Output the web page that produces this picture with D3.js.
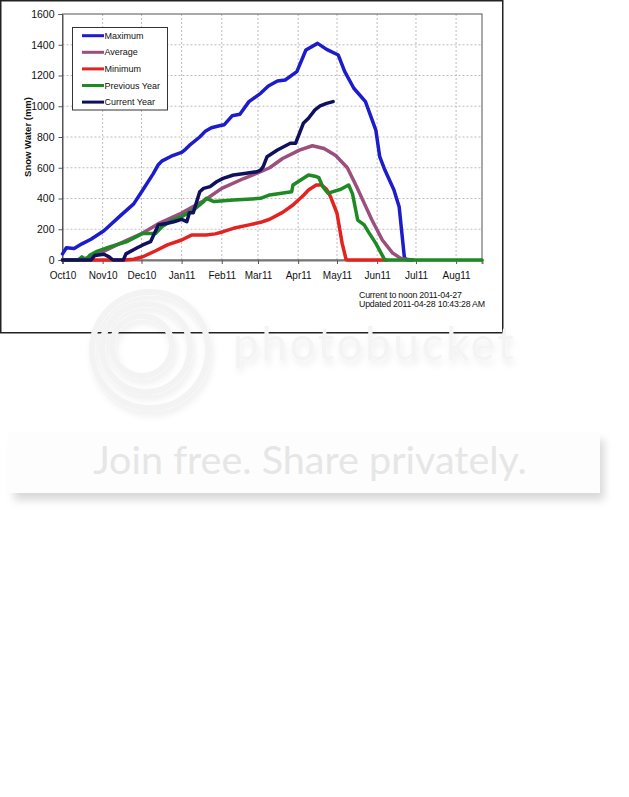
<!DOCTYPE html>
<html>
<head>
<meta charset="utf-8">
<script src="https://cdn.jsdelivr.net/npm/d3@7"></script>
<style>
  html, body { margin: 0; padding: 0; background: #fff; }
  svg { display: block; font-family: "Liberation Sans", Arial, sans-serif; }
</style>
</head>
<body>
<svg id="chart" width="629" height="797"></svg>
<script>
// Snow water equivalent (mm), water year Oct 2010 - Aug 2011
var maximum = [
  ["2010-10-01", 40], ["2010-10-04", 80], ["2010-10-10", 75], ["2010-10-16", 105],
  ["2010-10-23", 135], ["2010-11-02", 190], ["2010-11-15", 290], ["2010-11-25", 365],
  ["2010-12-02", 455], ["2010-12-10", 560], ["2010-12-14", 620], ["2010-12-17", 645],
  ["2010-12-24", 675], ["2011-01-01", 700], ["2011-01-04", 720], ["2011-01-07", 745],
  ["2011-01-15", 800], ["2011-01-19", 835], ["2011-01-24", 860], ["2011-01-31", 875],
  ["2011-02-03", 880], ["2011-02-09", 938], ["2011-02-15", 948], ["2011-02-22", 1030],
  ["2011-03-03", 1084], ["2011-03-09", 1132], ["2011-03-16", 1164], ["2011-03-22", 1171],
  ["2011-03-31", 1225], ["2011-04-07", 1366], ["2011-04-16", 1409], ["2011-04-23", 1370],
  ["2011-05-02", 1333], ["2011-05-07", 1225], ["2011-05-14", 1117], ["2011-05-23", 1030],
  ["2011-05-31", 845], ["2011-06-03", 672], ["2011-06-07", 585], ["2011-06-14", 455],
  ["2011-06-18", 347], ["2011-06-22", 21], ["2011-06-23", 5], ["2011-06-28", 0]
];

var average = [
  ["2010-10-01", 0], ["2010-10-13", 2], ["2010-10-21", 15], ["2010-10-30", 44],
  ["2010-11-10", 90], ["2010-11-20", 130], ["2010-12-02", 175], ["2010-12-15", 240],
  ["2011-01-01", 305], ["2011-01-19", 390], ["2011-02-01", 466], ["2011-02-18", 530],
  ["2011-03-03", 574], ["2011-03-10", 600], ["2011-03-20", 660], ["2011-04-02", 715],
  ["2011-04-12", 743], ["2011-04-21", 725], ["2011-04-30", 680], ["2011-05-09", 600],
  ["2011-05-16", 480], ["2011-05-22", 370], ["2011-05-28", 260], ["2011-06-05", 130],
  ["2011-06-13", 45], ["2011-06-19", 12], ["2011-06-25", 2], ["2011-06-29", 0]
];

var minimum = [
  ["2010-10-01", 0], ["2010-11-18", 0], ["2010-11-25", 5], ["2010-12-02", 21],
  ["2010-12-12", 60], ["2010-12-21", 98], ["2011-01-01", 130], ["2011-01-09", 163],
  ["2011-01-20", 163], ["2011-01-27", 170], ["2011-02-02", 184], ["2011-02-10", 206],
  ["2011-02-23", 230], ["2011-03-03", 245], ["2011-03-10", 265], ["2011-03-20", 310],
  ["2011-03-28", 358], ["2011-04-05", 420], ["2011-04-09", 455], ["2011-04-15", 488],
  ["2011-04-19", 488], ["2011-04-23", 460], ["2011-04-26", 412], ["2011-05-01", 304],
  ["2011-05-05", 108], ["2011-05-08", 5], ["2011-05-09", 0], ["2011-06-08", 0]
];

var previousYear = [
  ["2010-10-01", 0], ["2010-10-13", 0], ["2010-10-16", 20], ["2010-10-19", 0],
  ["2010-10-22", 30], ["2010-10-27", 54], ["2010-11-07", 87], ["2010-11-20", 120],
  ["2010-12-02", 173], ["2010-12-12", 173], ["2010-12-17", 217], ["2010-12-25", 260],
  ["2011-01-01", 282], ["2011-01-10", 325], ["2011-01-18", 380], ["2011-01-20", 401],
  ["2011-01-26", 380], ["2011-02-10", 390], ["2011-03-03", 401], ["2011-03-10", 423],
  ["2011-03-27", 444], ["2011-03-28", 488], ["2011-04-09", 553], ["2011-04-14", 545],
  ["2011-04-17", 535], ["2011-04-20", 477], ["2011-04-24", 434], ["2011-04-28", 445],
  ["2011-05-04", 460], ["2011-05-10", 488], ["2011-05-13", 430], ["2011-05-17", 260],
  ["2011-05-22", 228], ["2011-05-26", 173], ["2011-05-31", 108], ["2011-06-05", 30],
  ["2011-06-07", 0], ["2011-08-21", 0]
];

var currentYear = [
  ["2010-10-01", 0], ["2010-10-23", 0], ["2010-10-26", 30], ["2010-11-02", 37],
  ["2010-11-06", 20], ["2010-11-09", 0], ["2010-11-17", 0], ["2010-11-19", 40],
  ["2010-11-27", 76], ["2010-12-02", 98], ["2010-12-08", 119], ["2010-12-14", 228],
  ["2010-12-21", 239], ["2010-12-26", 249], ["2011-01-01", 264], ["2011-01-05", 249],
  ["2011-01-07", 308], ["2011-01-10", 308], ["2011-01-15", 444], ["2011-01-18", 466],
  ["2011-01-23", 477], ["2011-01-28", 509], ["2011-02-02", 531], ["2011-02-10", 553],
  ["2011-02-20", 564], ["2011-02-28", 574], ["2011-03-03", 585], ["2011-03-05", 607],
  ["2011-03-08", 672], ["2011-03-16", 715], ["2011-03-26", 759], ["2011-03-30", 759],
  ["2011-04-05", 889], ["2011-04-09", 922], ["2011-04-14", 976], ["2011-04-18", 1002],
  ["2011-04-23", 1019], ["2011-04-28", 1030]
];

var seriesNames  = ["Maximum", "Average", "Minimum", "Previous Year", "Current Year"];
var seriesColors = ["#1c1ccc", "#9a4f7c", "#e32320", "#1e8a24", "#10105e"];
var yTicks = [0, 200, 400, 600, 800, 1000, 1200, 1400, 1600];
var notes = ["Current to noon 2011-04-27", "Updated 2011-04-28 10:43:28 AM"];

var parse = d3.timeParse("%Y-%m-%d");
var svg = d3.select("#chart");

// ── Outer frame ─────────────────────────────────────────────────────
svg.append("rect")
  .attr("x", 0.75).attr("y", 0.75)
  .attr("width", 502).attr("height", 332)
  .attr("fill", "#fff")
  .attr("stroke", "#222").attr("stroke-width", 1.5);

var LEFT = 62.5, RIGHT = 482, TOP = 14, BOTTOM = 260;

var x = d3.scaleTime()
  .domain([parse("2010-10-01"), parse("2011-08-21")])
  .range([LEFT, RIGHT]);

var y = d3.scaleLinear()
  .domain([0, 1600])
  .range([BOTTOM, TOP]);

var months = d3.timeMonth.range(parse("2010-10-01"), parse("2011-08-21"));

// ── Grid ────────────────────────────────────────────────────────────
var grid = svg.append("g");
grid.selectAll(".vgrid")
  .data(months.slice(1))
  .enter().append("line")
  .attr("x1", function (d) { return x(d); })
  .attr("x2", function (d) { return x(d); })
  .attr("y1", TOP).attr("y2", BOTTOM)
  .attr("stroke", "#bdbdbd").attr("stroke-dasharray", "2,2");

grid.selectAll(".hgrid")
  .data(yTicks.slice(1, -1))
  .enter().append("line")
  .attr("x1", LEFT).attr("x2", RIGHT)
  .attr("y1", function (d) { return y(d); })
  .attr("y2", function (d) { return y(d); })
  .attr("stroke", "#bdbdbd").attr("stroke-dasharray", "2,2");

svg.append("rect")
  .attr("x", LEFT).attr("y", TOP)
  .attr("width", RIGHT - LEFT).attr("height", BOTTOM - TOP)
  .attr("fill", "none").attr("stroke", "#555").attr("stroke-width", 1);

// ── Axes ────────────────────────────────────────────────────────────
var xAxis = svg.append("g")
  .attr("transform", "translate(0," + BOTTOM + ")")
  .call(d3.axisBottom(x).tickValues(months).tickSize(4).tickPadding(8)
    .tickFormat(d3.timeFormat("%b%y")));
xAxis.select(".domain").attr("stroke", "#777").attr("stroke-width", 2);
xAxis.selectAll(".tick line").attr("stroke", "#555");
xAxis.selectAll("text").attr("font-size", 10).attr("fill", "#111")
  .attr("font-family", "Liberation Sans, Arial, sans-serif");

var yAxis = svg.append("g")
  .attr("transform", "translate(" + LEFT + ",0)")
  .call(d3.axisLeft(y).tickValues(yTicks).tickSize(4).tickPadding(4)
    .tickFormat(d3.format("d")));
yAxis.select(".domain").attr("stroke", "#555");
yAxis.selectAll(".tick line").attr("stroke", "#555");
yAxis.selectAll("text").attr("font-size", 10.5).attr("fill", "#111")
  .attr("font-family", "Liberation Sans, Arial, sans-serif");

svg.append("text")
  .attr("transform", "translate(31," + ((TOP + BOTTOM) / 2) + ") rotate(-90)")
  .attr("text-anchor", "middle")
  .attr("font-size", 9.5).attr("font-weight", "bold").attr("fill", "#111")
  .text("Snow Water (mm)");

// ── Lines ───────────────────────────────────────────────────────────
var line = d3.line()
  .x(function (d) { return x(parse(d[0])); })
  .y(function (d) { return y(d[1]); });

var allSeries = [maximum, average, minimum, previousYear, currentYear];
svg.append("g").selectAll("path")
  .data(allSeries)
  .enter().append("path")
  .attr("d", line)
  .attr("fill", "none")
  .attr("stroke", function (d, i) { return seriesColors[i]; })
  .attr("stroke-width", 3.5)
  .attr("stroke-linejoin", "round")
  .attr("stroke-linecap", "round");

// ── Legend ──────────────────────────────────────────────────────────
var legend = svg.append("g");
legend.append("rect")
  .attr("x", 72.5).attr("y", 27.5).attr("width", 95).attr("height", 82.5)
  .attr("fill", "#fff").attr("stroke", "#333").attr("stroke-width", 1);

var item = legend.selectAll(".item")
  .data(seriesNames)
  .enter().append("g")
  .attr("transform", function (d, i) { return "translate(0," + (35.7 + i * 16.6) + ")"; });
item.append("line")
  .attr("x1", 82).attr("x2", 104)
  .attr("stroke", function (d, i) { return seriesColors[i]; })
  .attr("stroke-width", 3);
item.append("text")
  .attr("x", 104.5).attr("dy", "0.35em")
  .attr("font-size", 9).attr("fill", "#111")
  .text(function (d) { return d; });

// ── Notes ───────────────────────────────────────────────────────────
svg.append("g").selectAll("text")
  .data(notes)
  .enter().append("text")
  .attr("x", 359)
  .attr("y", function (d, i) { return 297.5 + i * 9.7; })
  .attr("font-size", 8.8).attr("fill", "#111")
  .attr("letter-spacing", -0.2)
  .text(function (d) { return d; });

// ── Host watermark ──────────────────────────────────────────────────
var defs = svg.append("defs");
defs.append("filter").attr("id", "soft")
  .attr("x", "-20%").attr("y", "-20%").attr("width", "140%").attr("height", "160%")
  .append("feGaussianBlur").attr("stdDeviation", 4);

var shadow = defs.append("filter").attr("id", "shadow")
  .attr("x", "-20%").attr("y", "-30%").attr("width", "140%").attr("height", "170%");
shadow.append("feGaussianBlur").attr("in", "SourceAlpha").attr("stdDeviation", 3)
  .attr("result", "blur");
shadow.append("feOffset").attr("in", "blur").attr("dx", 2).attr("dy", 5)
  .attr("result", "off");
shadow.append("feFlood").attr("flood-color", "#000").attr("flood-opacity", 0.07)
  .attr("result", "col");
shadow.append("feComposite").attr("in", "col").attr("in2", "off")
  .attr("operator", "in").attr("result", "sh");
var merge = shadow.append("feMerge");
merge.append("feMergeNode").attr("in", "sh");
merge.append("feMergeNode").attr("in", "SourceGraphic");

var wm = svg.append("g").attr("filter", "url(#shadow)");
[[150, 350, 58], [146, 348, 44], [142, 346, 30]].forEach(function (c) {
  wm.append("circle").attr("cx", c[0]).attr("cy", c[1]).attr("r", c[2])
    .attr("fill", "none").attr("stroke", "#f3f3f3").attr("stroke-width", 6);
});
wm.append("text")
  .attr("x", 233).attr("y", 360)
  .attr("font-size", 46).attr("letter-spacing", 2.5)
  .attr("font-family", "Lato, 'Open Sans', sans-serif")
  .attr("fill", "#f4f4f4")
  .text("photobucket");

svg.append("rect")
  .attr("x", 14).attr("y", 440).attr("width", 590).attr("height", 60)
  .attr("fill", "#d8d8d8").attr("filter", "url(#soft)");
svg.append("rect")
  .attr("x", 8).attr("y", 432).attr("width", 592).attr("height", 61)
  .attr("fill", "#fdfdfd");
svg.append("text")
  .attr("x", 310).attr("y", 474)
  .attr("text-anchor", "middle")
  .attr("font-size", 39.5).attr("font-family", "Lato, 'Open Sans', sans-serif")
  .attr("fill", "#e6e6e6")
  .text("Join free. Share privately.");
</script>
</body>
</html>
